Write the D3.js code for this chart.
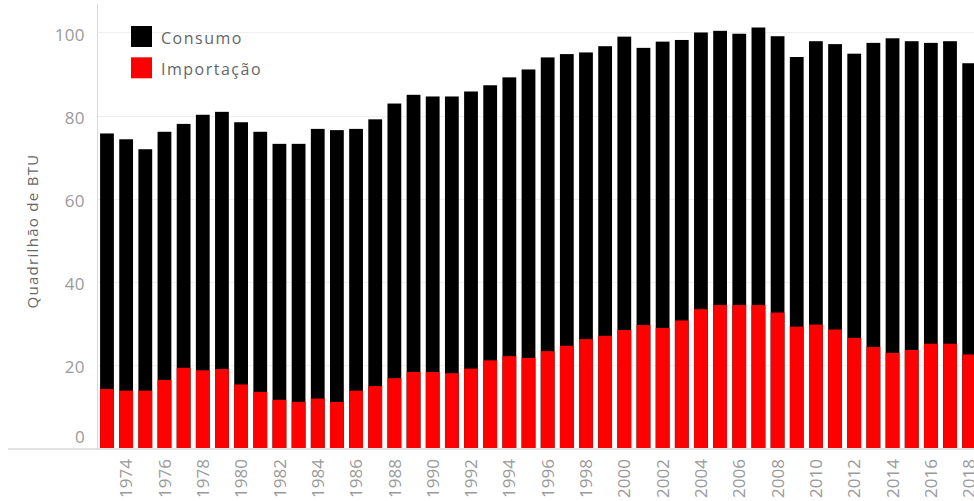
<!DOCTYPE html>
<html>
<head>
<meta charset="utf-8">
<script src="https://cdn.jsdelivr.net/npm/d3@7"></script>
<style>
  html, body { margin: 0; padding: 0; background: #fff; overflow: hidden; }
  svg { display: block; font-family: "Open Sans", "Noto Sans", sans-serif; }
</style>
</head>
<body>
<svg id="chart" width="974" height="501"></svg>
<script>
const years = d3.range(1973, 2019).map(String);
const consumo = [
  75.7, 74.3, 71.9, 76.1, 78.0, 80.2, 80.9, 78.4, 76.1, 73.2,
  73.2, 76.8, 76.5, 76.8, 79.1, 82.9, 85.0, 84.6, 84.6, 85.8,
  87.3, 89.2, 91.1, 94.0, 94.8, 95.2, 96.7, 99.0, 96.3, 97.8,
  98.2, 100.0, 100.4, 99.7, 101.2, 99.1, 94.1, 97.9, 97.2, 94.9,
  97.5, 98.6, 97.9, 97.5, 97.9, 92.6
];
const importacao = [
  14.2, 13.8, 13.8, 16.4, 19.3, 18.7, 19.0, 15.3, 13.5, 11.6,
  11.1, 11.9, 11.1, 13.8, 14.9, 16.8, 18.3, 18.3, 18.0, 19.1,
  21.1, 22.1, 21.7, 23.3, 24.6, 26.2, 27.0, 28.4, 29.6, 28.9,
  30.7, 33.4, 34.4, 34.4, 34.4, 32.6, 29.2, 29.7, 28.5, 26.5,
  24.3, 22.9, 23.6, 25.1, 25.1, 22.5
];
const xTickLabels = years.filter(y => +y % 2 === 0);
const yTicks = [0, 20, 40, 60, 80, 100];
const seriesNames = ["Consumo", "Importação"];
const seriesColors = ["#000000", "#ff0000"];
const yTitle = "Quadrilhão de BTU";

const svg = d3.select("#chart");
const x = d3.scaleBand().domain(years).range([97.4, 97.4 + 46 * 19.16])
  .paddingInner(0.28).paddingOuter(0.14);
const y = d3.scaleLinear().domain([0, 107]).range([448, 3.4]);

// gridlines
svg.append("g").selectAll("line").data(yTicks.filter(d => d > 0)).join("line")
  .attr("x1", 97.5).attr("x2", 974)
  .attr("y1", d => Math.round(y(d)) + 0.5).attr("y2", d => Math.round(y(d)) + 0.5)
  .attr("stroke", "#efefef").attr("stroke-width", 1);

// y axis line
svg.append("line").attr("x1", 97.5).attr("x2", 97.5).attr("y1", 4).attr("y2", 449)
  .attr("stroke", "#d9d9d9");

// bars
const data = years.map((yr, i) => ({ yr, c: consumo[i], m: importacao[i] }));
svg.append("g").selectAll("rect").data(data).join("rect")
  .attr("x", d => x(d.yr)).attr("width", x.bandwidth())
  .attr("y", d => y(d.c)).attr("height", d => y(0) - y(d.c))
  .attr("fill", seriesColors[0]);
svg.append("g").selectAll("rect").data(data).join("rect")
  .attr("x", d => x(d.yr)).attr("width", x.bandwidth())
  .attr("y", d => y(d.m)).attr("height", d => y(0) - y(d.m))
  .attr("fill", seriesColors[1]);

// baseline
svg.append("line").attr("x1", 8).attr("x2", 974).attr("y1", 449).attr("y2", 449)
  .attr("stroke", "#c8c8c8");

// y axis (labels only)
const yAxis = d3.axisLeft(y).tickValues(yTicks).tickSize(0).tickPadding(0);
const gy = svg.append("g").attr("transform", "translate(85,0)").call(yAxis);
gy.select(".domain").remove();
gy.selectAll("text")
  .attr("font-size", 17).attr("fill", "#9a9a9a").attr("letter-spacing", "0.4px")
  .attr("font-family", "'Open Sans', 'Noto Sans', sans-serif")
  .attr("dy", d => d === 0 ? "-0.3em" : "0.45em");

// x axis (labels only, rotated)
const xAxis = d3.axisBottom(x).tickValues(xTickLabels).tickSize(0).tickPadding(0);
const gx = svg.append("g").attr("transform", "translate(0,459)").call(xAxis);
gx.select(".domain").remove();
gx.selectAll("text")
  .attr("font-size", 17).attr("fill", "#9a9a9a")
  .attr("font-family", "'Open Sans', 'Noto Sans', sans-serif")
  .attr("transform", "rotate(-90)")
  .attr("text-anchor", "end")
  .attr("x", 0).attr("y", 0).attr("dy", "0.36em");

// y title
svg.append("text")
  .attr("transform", "translate(32,231) rotate(-90)")
  .attr("text-anchor", "middle").attr("dominant-baseline", "central")
  .attr("font-size", 15).attr("letter-spacing", "1.3px").attr("fill", "#666")
  .text(yTitle);

// legend
const lg = svg.append("g").attr("transform", "translate(131,26)");
seriesNames.forEach((name, i) => {
  lg.append("rect").attr("x", 0).attr("y", i * 31.3).attr("width", 21).attr("height", 21)
    .attr("fill", seriesColors[i]);
  lg.append("text").attr("x", 30).attr("y", i * 31.3 + 12)
    .attr("dominant-baseline", "central")
    .attr("font-size", 16).attr("letter-spacing", "1.5px").attr("fill", "#666")
    .text(name);
});
</script>
</body>
</html>
